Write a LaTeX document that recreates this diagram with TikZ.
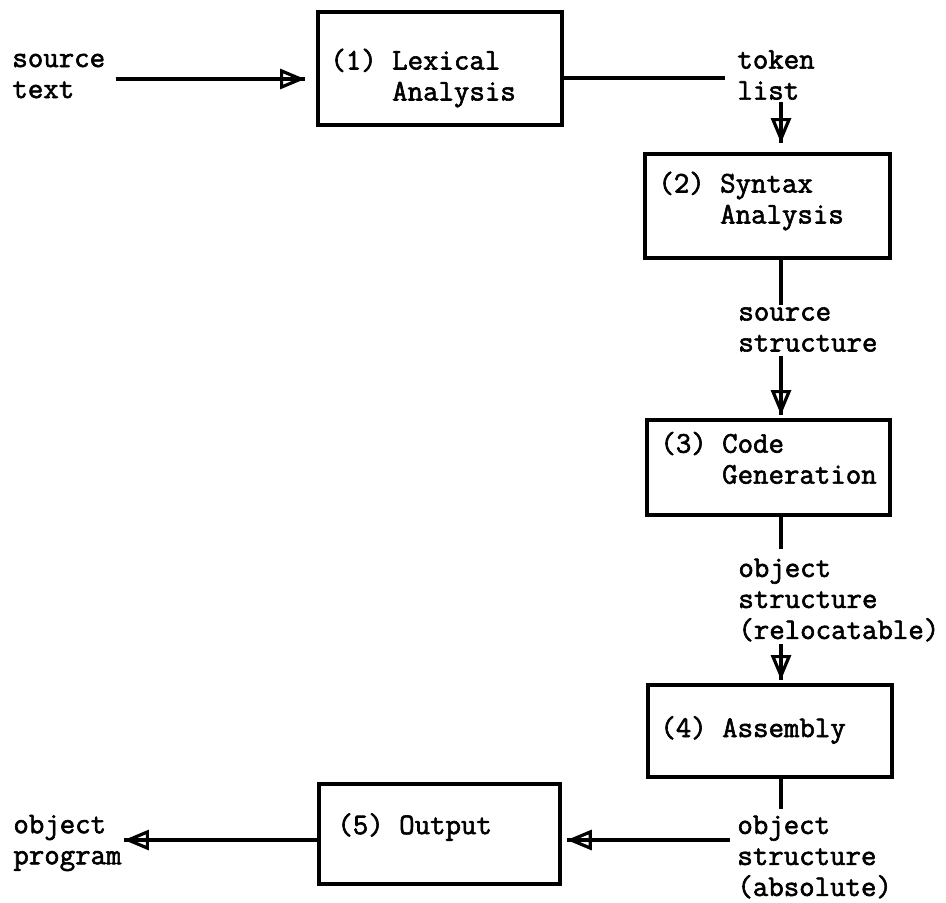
\documentclass[tikz,border=0pt]{standalone}
\usepackage{fontspec}
\newfontfamily\tw{Latin Modern Mono}[FakeBold=2]
\usetikzlibrary{arrows.meta}
\begin{document}
\begin{tikzpicture}[x=0.5pt,y=-0.5pt,
  box/.style={draw,line width=1.9pt,inner sep=0pt,anchor=north west},
  lbl/.style={inner sep=0pt,align=left,anchor=west,font=\tw\fontsize{15}{15.5}\selectfont},
  conn/.style={line width=1.6pt},
  arr/.style={line width=1.6pt,-{Triangle[open,length=12.5pt,width=10pt]}}]
\useasboundingbox (0,0) rectangle (946,902);
% level coordinates
\coordinate (vx) at (781,0);
\coordinate (r1) at (0,79);
\coordinate (r2) at (0,78);
\coordinate (r5) at (0,840);
% boxes
\node[box,minimum width=122pt,minimum height=56.5pt] (b1) at (316,10) {};
\node[box,minimum width=122.5pt,minimum height=52pt] (b2) at (643,152) {};
\node[box,minimum width=121.5pt,minimum height=47.5pt] (b3) at (645,418) {};
\node[box,minimum width=122pt,minimum height=46pt] (b4) at (646,683) {};
\node[box,minimum width=120.5pt,minimum height=50pt] (b5) at (317,782) {};
% box texts
\node[lbl] (t1) at (330,78) {(1) Lexical\\\phantom{(1) }Analysis};
\node[lbl] (t2) at (658,201) {(2) Syntax\\\phantom{(2) }Analysis};
\node[lbl] (t3) at (660,459) {(3) Code\\\phantom{(3) }Generation};
\node[lbl] (t4) at (660,730) {(4) Assembly};
\node[lbl] (t5) at (337,827) {(5) Output};
% flow labels
\node[lbl] (src) at (12,76) {source\\text};
\node[lbl] (tok) at (737,75) {token\\list};
\node[lbl] (ss) at (738,329.5) {source\\structure};
\node[lbl] (os) at (738,600) {object\\structure\\(relocatable)};
\node[lbl] (oa) at (737,857) {object\\structure\\(absolute)};
\node[lbl] (op) at (13,843) {object\\program};
% connectors
\draw[conn,shorten <=5pt,shorten >=5.5pt] (src.east |- r1) -- (b1.west |- r1);
\draw[arr,shorten <=5pt,shorten >=5.5pt] (src.east |- r1) -- (b1.west |- r1);
\draw[conn,shorten >=6pt] (b1.east |- r2) -- (tok.west |- r2);
\draw[conn,shorten <=1pt,shorten >=4.5pt] (tok.south -| vx) -- (b2.north -| vx);
\draw[arr,shorten <=1pt,shorten >=4.5pt] (tok.south -| vx) -- (b2.north -| vx);
\draw[conn,shorten >=1pt] (b2.south -| vx) -- (ss.north -| vx);
\draw[conn,shorten <=2pt,shorten >=1.5pt] (ss.south -| vx) -- (b3.north -| vx);
\draw[arr,shorten <=2pt,shorten >=1.5pt] (ss.south -| vx) -- (b3.north -| vx);
\draw[conn,shorten >=4.5pt] (b3.south -| vx) -- (os.north -| vx);
\draw[conn,shorten <=1pt,shorten >=1.5pt] (os.south -| vx) -- (b4.north -| vx);
\draw[arr,shorten <=1pt,shorten >=1.5pt] (os.south -| vx) -- (b4.north -| vx);
\draw[conn,shorten >=3pt] (b4.south -| vx) -- (oa.north -| vx);
\draw[conn,shorten <=3.5pt,shorten >=2.5pt] (oa.west |- r5) -- (b5.east |- r5);
\draw[arr,shorten <=3.5pt,shorten >=2.5pt] (oa.west |- r5) -- (b5.east |- r5);
\draw[conn,shorten >=1pt] (b5.west |- r5) -- (op.east |- r5);
\draw[arr,shorten >=1pt] (b5.west |- r5) -- (op.east |- r5);
\end{tikzpicture}
\end{document}
